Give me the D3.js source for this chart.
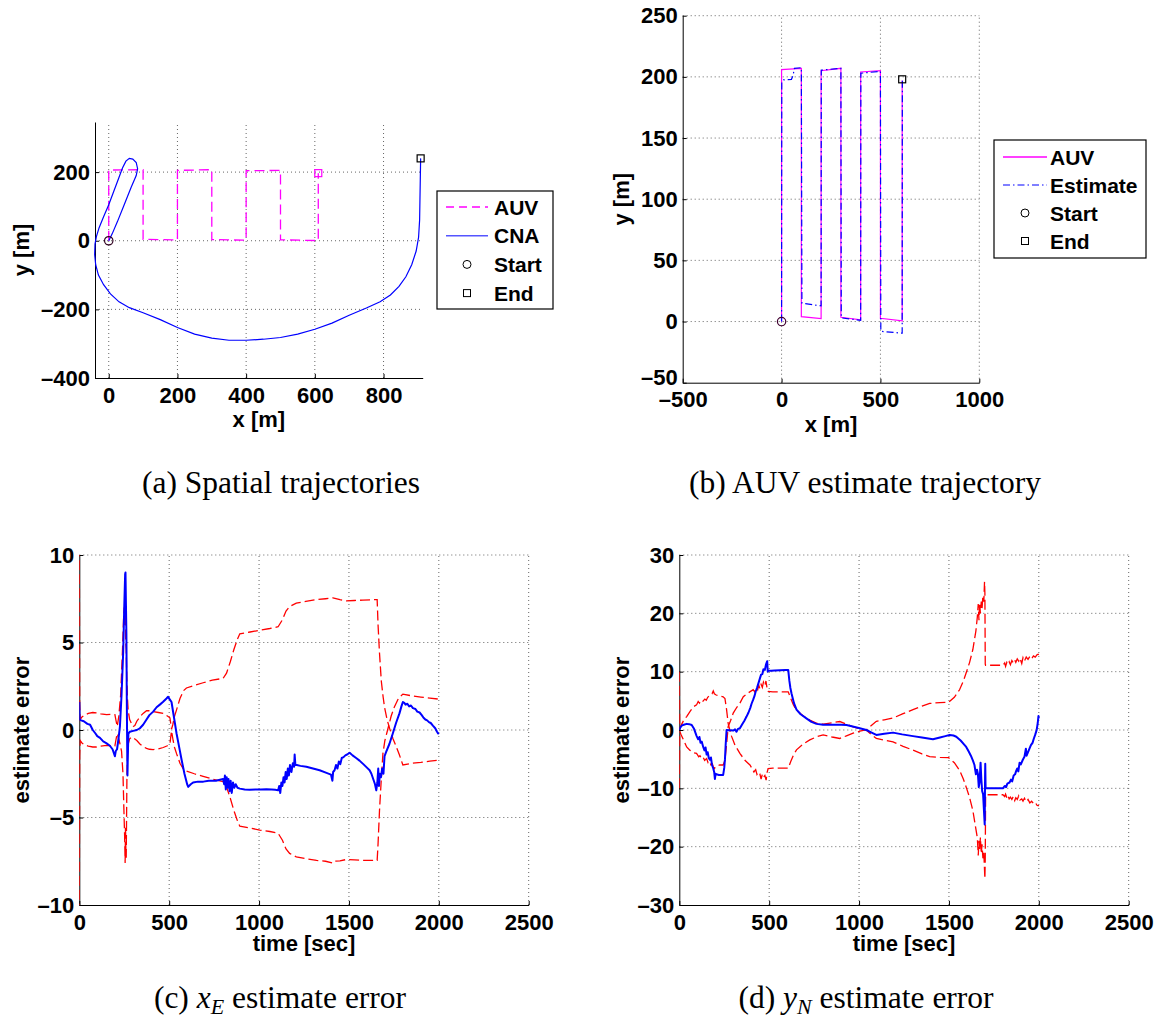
<!DOCTYPE html>
<html><head><meta charset="utf-8">
<script src="https://cdn.jsdelivr.net/npm/d3@7"></script>
<style>
html,body{margin:0;padding:0;background:#fff;}
svg{display:block;}
.tick text,.lbl,.leg{font-family:"Liberation Sans",Arial,Helvetica,sans-serif;font-weight:bold;fill:#000;}
.tick text,.lbl{font-size:22px;}
.leg{font-size:21px;}
.cap{font-family:"Liberation Serif","Times New Roman",serif;font-size:31.5px;fill:#000;}
</style></head><body>
<svg id="fig" width="1163" height="1023"></svg>
<script>
// ---------------- DATA ----------------
// AUV lawnmower path (x [m], y [m])
const auvPath = [[0,0],[0,206],[100,207],[100,4],[200,2.5],[200,205],[300,207],[300,3.5],[400,1.4],[400,204],[500,205],[500,2.7],[610,0.5],[610,197]];
// CNA path (panel a)
const cnaPath = [[0,0],[10,20],[25,55],[45,105],[65,155],[80,190],[84,210],[80,228],[70,238],[60,240],[50,232],[40,212],[30,185],[15,145],[0,105],[-15,70],[-28,38],[-36,12],[-40,-10],[-41,-40],[-38,-70],[-30,-100],[-15,-128],[5,-155],[30,-178],[60,-195],[100,-210],[150,-230],[200,-253],[250,-272],[300,-284],[350,-290],[400,-290],[450,-287],[500,-282],[550,-272],[600,-258],[650,-240],[700,-217],[750,-196],[790,-178],[820,-158],[845,-133],[865,-105],[882,-70],[895,-30],[902,10],[905,60],[906,120],[907,180],[908,240]];
// AUV estimate path (panel b)
const estPath = [[0,0],[1,196],[10,197.5],[50,198],[58,201],[65,207],[100,207.5],[103,15],[200,12.8],[201,205.5],[300,207],[302,3],[400,1],[401,203],[500,204.5],[502,-8],[610,-9.5],[611,198]];
const startPt = [0,0];
const endAuvA = [610,197];
const endCnaA = [908,240];
const endB = [610,198];

// x_E estimate error (panel c): blue error, red bounds
const xeErr = [[0,1.6],[2,0.6],[10,0.55],[25,0.5],[45,0.35],[60,0.3],[75,0.0],[90,-0.2],[100,-0.35],[115,-0.45],[133,-0.65],[150,-0.75],[170,-0.9],[185,-1.1],[198,-1.5],[203,-1.2],[210,-1.1],[218,-0.5],[226,0.2],[235,2.0],[244,4.4],[250,7.0],[255,8.9],[257,9.0],[259,7.5],[262,5.5],[264,2.0],[266,-0.5],[268,-2.6],[270,-1.5],[273,-0.2],[281,-0.1],[300,-0.05],[320,0.0],[337,0.1],[355,0.3],[374,0.6],[390,0.85],[411,1.05],[430,1.3],[448,1.45],[465,1.6],[485,1.8],[494,1.9],[503,1.75],[513,1.6],[527,0.7],[541,-0.2],[555,-0.95],[569,-1.7],[585,-2.5],[600,-3.1],[606,-3.25],[620,-3.1],[633,-3.0],[660,-2.95],[690,-2.95],[720,-2.9],[760,-2.9],[800,-2.8],[806,-3.1],[810,-2.6],[815,-3.4],[820,-2.7],[825,-3.3],[830,-2.8],[836,-3.5],[842,-2.9],[848,-3.6],[855,-3.0],[862,-3.3],[870,-3.1],[880,-3.3],[893,-3.35],[920,-3.4],[948,-3.42],[980,-3.4],[1010,-3.4],[1041,-3.38],[1070,-3.4],[1090,-3.42],[1106,-3.45],[1112,-3.2],[1118,-3.6],[1124,-3.0],[1130,-3.2],[1136,-2.7],[1142,-3.0],[1148,-2.4],[1154,-2.8],[1160,-2.2],[1166,-2.6],[1172,-2.0],[1180,-2.4],[1188,-1.9],[1195,-2.1],[1198,-1.4],[1202,-2.0],[1210,-2.0],[1230,-2.05],[1263,-2.1],[1300,-2.2],[1337,-2.3],[1375,-2.45],[1400,-2.55],[1408,-2.9],[1412,-2.4],[1420,-2.3],[1428,-2.0],[1436,-2.2],[1444,-1.8],[1452,-1.95],[1460,-1.6],[1470,-1.55],[1480,-1.45],[1490,-1.4],[1504,-1.3],[1520,-1.45],[1540,-1.6],[1559,-1.75],[1580,-1.95],[1600,-2.15],[1615,-2.3],[1625,-2.5],[1635,-2.8],[1645,-3.1],[1652,-3.45],[1658,-3.0],[1663,-2.2],[1667,-3.2],[1672,-2.5],[1678,-2.7],[1685,-2.2],[1692,-2.5],[1698,-1.5],[1707,-1.25],[1725,-0.8],[1744,-0.2],[1762,0.4],[1781,0.95],[1792,1.35],[1800,1.6],[1808,1.55],[1815,1.45],[1825,1.5],[1835,1.35],[1845,1.4],[1856,1.25],[1870,1.2],[1880,1.05],[1893,1.0],[1905,0.85],[1915,0.7],[1925,0.6],[1935,0.55],[1945,0.45],[1955,0.4],[1967,0.25],[1980,0.1],[1990,-0.1],[1996,-0.2],[2000,-0.15]];
const xeBoundA = [[0,10.5],[2,1.5],[5,0.6],[15,0.75],[30,0.85],[50,0.95],[75,1.0],[96,0.98],[120,0.92],[152,0.88],[175,0.9],[198,0.88],[205,0.5],[211,0.2],[220,0.8],[230,2.0],[240,4.5],[246,6.3],[250,7.0],[253,6.0],[256,6.8],[258,5.0],[261,4.6],[264,3.0],[268,1.8],[272,1.1],[280,0.6],[291,0.35],[300,0.2],[309,0.25],[320,0.5],[337,0.75],[355,0.95],[374,1.1],[390,1.1],[411,1.05],[440,1.0],[467,0.95],[490,0.8],[504,0.7],[513,0.05],[520,0.3],[530,0.8],[541,1.15],[560,1.8],[580,2.25],[596,2.4],[640,2.55],[689,2.7],[740,2.85],[800,2.95],[819,3.25],[840,3.9],[860,4.6],[880,5.2],[893,5.5],[950,5.6],[1004,5.7],[1060,5.8],[1106,5.9],[1130,6.3],[1150,6.8],[1170,7.05],[1207,7.25],[1260,7.35],[1320,7.45],[1370,7.5],[1411,7.55],[1450,7.45],[1485,7.38],[1530,7.4],[1578,7.42],[1620,7.44],[1657,7.45],[1662,6.0],[1670,4.4],[1680,2.8],[1690,1.9],[1698,1.3],[1712,0.6],[1726,0.1],[1745,-0.5],[1763,-0.95],[1780,-1.4],[1800,-2.0],[1850,-1.9],[1900,-1.85],[1950,-1.78],[1996,-1.72],[2000,-1.7]];
const xeBoundB = [[0,-10.5],[2,-1.5],[5,-0.6],[15,-0.75],[30,-0.85],[50,-0.92],[75,-0.97],[96,-0.97],[120,-0.92],[152,-0.88],[175,-0.9],[198,-0.9],[205,-0.5],[211,-0.2],[222,-0.6],[235,-1.2],[243,-2.5],[248,-4.5],[252,-6.0],[255,-7.6],[257,-5.5],[259,-6.8],[261,-7.3],[263,-5.0],[265,-2.6],[268,-1.5],[272,-0.8],[280,-0.5],[291,-0.4],[300,-0.45],[320,-0.6],[337,-0.8],[355,-0.95],[374,-1.05],[390,-1.1],[411,-1.12],[440,-1.08],[467,-1.0],[490,-0.9],[504,-0.8],[513,-0.05],[522,-0.6],[530,-1.0],[541,-1.35],[560,-1.9],[580,-2.25],[596,-2.35],[640,-2.5],[689,-2.65],[740,-2.8],[800,-2.95],[819,-3.25],[840,-3.9],[860,-4.6],[880,-5.2],[893,-5.5],[950,-5.6],[1004,-5.72],[1060,-5.8],[1106,-5.9],[1130,-6.3],[1150,-6.8],[1170,-7.05],[1207,-7.25],[1260,-7.35],[1320,-7.45],[1370,-7.5],[1411,-7.6],[1420,-7.5],[1450,-7.48],[1485,-7.4],[1530,-7.42],[1578,-7.45],[1620,-7.45],[1657,-7.45],[1662,-6.5],[1670,-4.6],[1680,-2.8],[1689,-1.35],[1700,-0.6],[1715,0.0],[1735,0.8],[1752,1.3],[1775,1.8],[1800,2.05],[1850,1.95],[1900,1.88],[1950,1.82],[1996,1.77],[2000,1.76]];

// y_N estimate error (panel d)
const ynErr = [[0,0],[5,0.4],[15,0.8],[25,0.9],[41,1.05],[55,1.0],[69,0.85],[82,0.2],[96,-1.0],[105,-1.6],[112,-1.2],[118,-2.2],[125,-2.0],[133,-2.9],[140,-3.5],[146,-3.0],[152,-4.2],[158,-3.8],[164,-4.8],[170,-5.1],[176,-4.7],[182,-6.0],[189,-6.6],[194,-7.2],[198,-8.4],[202,-7.5],[207,-7.6],[220,-7.7],[235,-7.7],[244,-7.7],[250,-6.5],[254,-5.0],[258,-2.5],[263,0.0],[280,-0.05],[300,-0.1],[310,0.1],[318,-0.3],[327,0.2],[337,0.3],[350,1.0],[362,1.6],[374,2.3],[385,3.0],[395,3.8],[402,4.5],[411,5.2],[418,5.8],[425,6.6],[432,7.2],[440,8.0],[448,8.8],[455,9.5],[462,9.6],[468,10.4],[476,10.3],[482,11.2],[489,11.8],[492,10.0],[494,10.2],[510,10.15],[530,10.2],[560,10.25],[590,10.3],[606,10.3],[612,8.5],[618,7.2],[624,6.3],[638,4.6],[652,3.5],[675,2.7],[707,2.0],[735,1.4],[763,1.05],[800,0.9],[856,0.88],[900,0.9],[930,0.85],[965,0.6],[1004,0.3],[1041,0.0],[1070,-0.45],[1096,-0.85],[1140,-0.65],[1189,-0.45],[1240,-0.75],[1300,-1.05],[1350,-1.3],[1411,-1.6],[1450,-1.3],[1480,-1.05],[1504,-0.85],[1525,-0.95],[1541,-1.15],[1565,-1.8],[1585,-2.5],[1596,-2.9],[1610,-3.7],[1622,-4.4],[1633,-5.2],[1642,-6.0],[1650,-7.6],[1656,-6.8],[1661,-7.5],[1666,-9.8],[1670,-9.0],[1676,-5.6],[1680,-8.4],[1685,-10.5],[1690,-11.0],[1696,-14.5],[1699,-16.2],[1701,-8.0],[1702,-5.8],[1704,-10.0],[1730,-10.0],[1760,-10.0],[1790,-10.0],[1800,-10.0],[1810,-9.6],[1818,-9.8],[1825,-9.2],[1837,-9.0],[1845,-8.5],[1852,-8.8],[1860,-7.8],[1868,-7.6],[1874,-7.0],[1880,-6.6],[1886,-7.1],[1893,-5.6],[1900,-5.9],[1911,-5.1],[1920,-4.6],[1928,-3.2],[1932,-4.4],[1940,-3.8],[1948,-3.2],[1956,-2.6],[1965,-2.2],[1972,-1.5],[1980,-0.8],[1988,0.0],[1994,1.2],[1998,2.4],[2000,2.0]];
const ynBoundA = [[0,10.0],[2,0.2],[10,0.8],[25,1.7],[41,2.3],[60,3.2],[80,4.0],[96,4.3],[105,4.9],[112,4.6],[120,5.0],[128,4.8],[133,5.0],[142,5.3],[150,5.1],[158,5.6],[166,5.8],[174,6.1],[182,6.2],[189,6.7],[195,6.2],[205,6.0],[225,5.8],[244,5.7],[254,5.4],[263,3.5],[272,1.1],[281,0.0],[291,-1.1],[310,-2.6],[337,-4.0],[365,-5.2],[393,-6.0],[405,-6.6],[415,-7.2],[425,-6.8],[432,-7.6],[440,-7.2],[448,-7.5],[455,-8.4],[462,-7.6],[468,-8.1],[476,-7.8],[483,-8.6],[489,-7.2],[494,-6.6],[520,-6.55],[560,-6.55],[606,-6.55],[620,-5.4],[635,-4.3],[652,-3.4],[690,-2.4],[726,-1.7],[765,-1.15],[800,-0.85],[850,-1.2],[893,-1.45],[930,-1.0],[967,-0.55],[1005,-0.2],[1041,0.05],[1070,0.8],[1096,1.5],[1140,1.75],[1189,2.05],[1245,2.8],[1300,3.5],[1350,4.1],[1393,4.55],[1450,4.7],[1498,4.75],[1530,5.6],[1559,6.9],[1580,8.4],[1596,9.8],[1615,11.6],[1633,13.8],[1650,17.0],[1658,19.4],[1663,21.6],[1667,18.8],[1671,21.8],[1675,20.0],[1680,22.0],[1684,20.8],[1689,23.0],[1694,22.0],[1698,25.4],[1700,23.5],[1702,11.3],[1704,11.1],[1740,11.1],[1770,11.1],[1800,11.1],[1810,11.5],[1815,10.9],[1822,11.6],[1828,11.3],[1835,11.7],[1842,11.2],[1850,11.9],[1858,11.5],[1866,12.0],[1872,11.6],[1880,12.2],[1888,11.8],[1895,12.3],[1905,11.4],[1912,12.4],[1920,11.8],[1930,12.5],[1940,12.1],[1950,12.6],[1960,12.2],[1970,12.7],[1980,12.5],[1990,12.9],[1996,13.0],[2000,12.9]];
const ynBoundB = [[0,-10.0],[2,-0.2],[10,-0.8],[25,-1.8],[41,-2.9],[60,-3.5],[80,-3.9],[96,-4.0],[108,-4.6],[115,-4.4],[124,-4.9],[133,-4.7],[141,-5.2],[152,-4.9],[160,-5.6],[168,-5.4],[176,-6.0],[184,-5.8],[189,-6.3],[195,-6.6],[205,-6.2],[225,-6.0],[244,-6.0],[254,-5.2],[263,-2.5],[272,0.6],[285,1.6],[300,2.9],[320,3.9],[337,4.6],[356,5.7],[380,6.3],[411,6.9],[420,6.5],[428,7.3],[436,6.9],[442,7.7],[448,7.1],[455,7.8],[462,7.3],[468,8.2],[476,7.6],[482,8.4],[489,7.0],[494,6.6],[520,6.55],[560,6.55],[606,6.55],[620,5.4],[635,4.3],[652,3.4],[690,2.4],[726,1.7],[765,1.15],[800,1.0],[850,1.25],[893,1.45],[930,1.0],[967,0.55],[1005,0.2],[1041,-0.05],[1070,-0.8],[1096,-1.45],[1140,-1.75],[1189,-2.05],[1245,-2.8],[1300,-3.45],[1350,-4.1],[1393,-4.55],[1450,-4.7],[1498,-4.75],[1530,-5.6],[1559,-6.9],[1580,-8.4],[1596,-9.8],[1615,-11.6],[1633,-13.8],[1650,-17.0],[1658,-18.5],[1663,-21.5],[1667,-19.0],[1671,-20.6],[1675,-18.4],[1680,-21.2],[1684,-19.6],[1689,-22.0],[1694,-21.0],[1698,-24.0],[1700,-25.5],[1702,-22.0],[1704,-11.1],[1740,-11.1],[1770,-11.1],[1800,-11.1],[1810,-11.4],[1815,-11.0],[1822,-11.6],[1828,-11.2],[1835,-11.8],[1842,-11.5],[1850,-11.9],[1858,-11.4],[1866,-12.1],[1872,-11.6],[1880,-11.9],[1888,-11.3],[1895,-12.0],[1905,-11.8],[1912,-12.2],[1920,-11.7],[1930,-12.3],[1940,-11.9],[1950,-12.5],[1960,-12.2],[1970,-12.6],[1980,-12.4],[1990,-12.9],[1996,-13.0],[2000,-12.9]];

// tick labels
const aXTicks = [0,200,400,600,800];
const aYTicks = [-400,-200,0,200];
const bXTicks = [-500,0,500,1000];
const bYTicks = [-50,0,50,100,150,200,250];
const tTicks = [0,500,1000,1500,2000,2500];
const cYTicks = [-10,-5,0,5,10];
const dYTicks = [-30,-20,-10,0,10,20,30];
const legendA = ["AUV","CNA","Start","End"];
const legendB = ["AUV","Estimate","Start","End"];

// ---------------- DRAWING ----------------
const svg = d3.select("#fig");
let clipId = 0;
function panel(cfg){
  const g = svg.append("g");
  const x = d3.scaleLinear().domain(cfg.xDom).range([cfg.left, cfg.right]);
  const y = d3.scaleLinear().domain(cfg.yDom).range([cfg.bottom, cfg.top]);
  const grid = g.append("g").attr("stroke","#555").attr("stroke-width",0.9).attr("stroke-dasharray","1,3");
  cfg.xGrid.forEach(v => grid.append("line").attr("x1",x(v)).attr("x2",x(v)).attr("y1",cfg.bottom).attr("y2",cfg.top));
  cfg.yGrid.forEach(v => grid.append("line").attr("y1",y(v)).attr("y2",y(v)).attr("x1",cfg.left).attr("x2",cfg.right));
  const fmt = d => d < 0 ? "\u2013" + Math.abs(d) : String(d);
  const xa = g.append("g").attr("transform",`translate(0,${cfg.bottom})`)
    .call(d3.axisBottom(x).tickValues(cfg.xTicks).tickFormat(fmt).tickSizeInner(-4).tickSizeOuter(0).tickPadding(9));
  const ya = g.append("g").attr("transform",`translate(${cfg.left},0)`)
    .call(d3.axisLeft(y).tickValues(cfg.yTicks).tickFormat(fmt).tickSizeInner(-4).tickSizeOuter(0).tickPadding(5));
  [xa,ya].forEach(a => {
    a.attr("font-size",null).attr("font-family",null);
    a.select(".domain").attr("stroke","#000").attr("stroke-width",1);
    a.selectAll(".tick line").attr("stroke","#000");
  });
  if (cfg.lowYShift) ya.selectAll(".tick text").filter(d => d === cfg.yDom[0]).attr("dy","0.1em");
  g.append("text").attr("class","lbl").attr("x",(cfg.left+cfg.right)/2).attr("y",cfg.bottom+cfg.xLabOff)
    .attr("text-anchor","middle").text(cfg.xLabel);
  g.append("text").attr("class","lbl").attr("transform",`translate(${cfg.yLabX},${(cfg.top+cfg.bottom)/2}) rotate(-90)`)
    .attr("text-anchor","middle").text(cfg.yLabel);
  const id = "clip" + (clipId++);
  g.append("clipPath").attr("id",id).append("rect")
    .attr("x",cfg.left).attr("y",cfg.top).attr("width",cfg.right-cfg.left).attr("height",cfg.bottom-cfg.top);
  const plot = g.append("g").attr("clip-path",`url(#${id})`);
  const marks = g.append("g");
  const line = d3.line().x(d => x(d[0])).y(d => y(d[1]));
  return {g, plot, marks, x, y, line};
}

function legend(L, entries, styles){
  const g = svg.append("g");
  g.append("rect").attr("x",L.x).attr("y",L.y).attr("width",L.w).attr("height",L.h)
    .attr("fill","#fff").attr("stroke","#000").attr("stroke-width",1.2);
  entries.forEach((name,i) => {
    const cy = L.y + L.first + i*L.step;
    const s = styles[i];
    if (s.type === "line") {
      g.append("line").attr("x1",L.lx1).attr("x2",L.lx2).attr("y1",cy).attr("y2",cy)
        .attr("stroke",s.color).attr("stroke-width",s.width).attr("stroke-dasharray",s.dash || null);
    } else if (s.type === "circle") {
      g.append("circle").attr("cx",(L.lx1+L.lx2)/2).attr("cy",cy).attr("r",4).attr("fill","none").attr("stroke","#000").attr("stroke-width",1);
    } else {
      g.append("rect").attr("x",(L.lx1+L.lx2)/2-3.5).attr("y",cy-3.5).attr("width",7).attr("height",7).attr("fill","none").attr("stroke","#000").attr("stroke-width",1);
    }
    g.append("text").attr("class","leg").attr("x",L.tx).attr("y",cy+7.5).text(name);
  });
}

function marker(p, pt, kind, color){
  if (kind === "circle") p.marks.append("circle").attr("cx",p.x(pt[0])).attr("cy",p.y(pt[1])).attr("r",4.2).attr("fill","none").attr("stroke",color).attr("stroke-width",1.2);
  else p.marks.append("rect").attr("x",p.x(pt[0])-3.5).attr("y",p.y(pt[1])-3.5).attr("width",7).attr("height",7).attr("fill","none").attr("stroke",color).attr("stroke-width",1.2);
}

// Panel (a)
const pa = panel({left:95,right:422.7,top:122,bottom:378,xDom:[-40,914],yDom:[-400,346],
  xTicks:aXTicks,yTicks:aYTicks,xGrid:[0,200,400,600,800],yGrid:[-200,0,200],
  xLabel:"x [m]",yLabel:"y [m]",xLabOff:49,yLabX:29});
pa.plot.append("path").attr("d",pa.line(auvPath)).attr("fill","none").attr("stroke","#ff00ff").attr("stroke-width",1.3).attr("stroke-dasharray","10,5");
pa.marks.append("path").attr("d",pa.line(cnaPath)).attr("fill","none").attr("stroke","#0000ff").attr("stroke-width",1.2);
marker(pa, startPt, "circle", "#300020");
marker(pa, endAuvA, "square", "#ff00ff");
marker(pa, endCnaA, "square", "#000");
legend({x:437,y:191,w:116,h:118,first:16,step:28.7,lx1:446,lx2:488,tx:494}, legendA,
  [{type:"line",color:"#ff00ff",width:1.3,dash:"8,5"},{type:"line",color:"#5555ff",width:1.5},{type:"circle"},{type:"square"}]);

// Panel (b)
const pb = panel({left:682.7,right:979.3,top:15.7,bottom:382.7,xDom:[-500,1000],yDom:[-50,250],
  xTicks:bXTicks,yTicks:bYTicks,xGrid:[0,500,1000],yGrid:[0,50,100,150,200,250],
  xLabel:"x [m]",yLabel:"y [m]",xLabOff:49,yLabX:629,lowYShift:true});
pb.plot.append("path").attr("d",pb.line(auvPath)).attr("fill","none").attr("stroke","#ff00ff").attr("stroke-width",1.2);
pb.plot.append("path").attr("d",pb.line(estPath)).attr("fill","none").attr("stroke","#0000ff").attr("stroke-width",1.2).attr("stroke-dasharray","7,3,1.5,3");
marker(pb, startPt, "circle", "#400030");
marker(pb, endB, "square", "#000");
legend({x:994,y:140,w:152,h:118,first:17,step:28,lx1:1003,lx2:1047,tx:1050}, legendB,
  [{type:"line",color:"#ff00ff",width:1.3},{type:"line",color:"#0000ff",width:1.2,dash:"7,3,1.5,3"},{type:"circle"},{type:"square"}]);

// Panel (c)
const pc = panel({left:79.3,right:528.7,top:555,bottom:905,xDom:[0,2500],yDom:[-10,10],
  xTicks:tTicks,yTicks:cYTicks,xGrid:[500,1000,1500,2000,2500],yGrid:[-5,0,5,10],
  xLabel:"time [sec]",yLabel:"estimate error",xLabOff:46,yLabX:29});
[xeBoundA, xeBoundB].forEach(b => pc.plot.append("path").attr("d",pc.line(b)).attr("fill","none").attr("stroke","#ff0000").attr("stroke-width",1.3).attr("stroke-dasharray","10,4"));
pc.plot.append("path").attr("d",pc.line(xeErr)).attr("fill","none").attr("stroke","#0000ff").attr("stroke-width",2).attr("stroke-linejoin","round");

// Panel (d)
const pd = panel({left:679.3,right:1128.7,top:555,bottom:905,xDom:[0,2500],yDom:[-30,30],
  xTicks:tTicks,yTicks:dYTicks,xGrid:[500,1000,1500,2000,2500],yGrid:[-20,-10,0,10,20,30],
  xLabel:"time [sec]",yLabel:"estimate error",xLabOff:46,yLabX:629});
[ynBoundA, ynBoundB].forEach(b => pd.plot.append("path").attr("d",pd.line(b)).attr("fill","none").attr("stroke","#ff0000").attr("stroke-width",1.3).attr("stroke-dasharray","10,4"));
pd.plot.append("path").attr("d",pd.line(ynErr)).attr("fill","none").attr("stroke","#0000ff").attr("stroke-width",2).attr("stroke-linejoin","round");

// Captions
function caption(cx, y, parts){
  const t = svg.append("text").attr("class","cap").attr("x",cx).attr("y",y).attr("text-anchor","middle");
  parts.forEach(p => {
    const s = t.append("tspan").text(p.t);
    if (p.it) s.attr("font-style","italic");
    if (p.dy) s.attr("dy",p.dy);
    if (p.fs) s.attr("font-size",p.fs);
  });
}
caption(281, 493, [{t:"(a) Spatial trajectories"}]);
caption(865, 493, [{t:"(b) AUV estimate trajectory"}]);
caption(280, 1008, [{t:"(c) "},{t:"x",it:true},{t:"E",it:true,dy:6,fs:22},{t:" estimate error",dy:-6}]);
caption(866, 1008, [{t:"(d) "},{t:"y",it:true},{t:"N",it:true,dy:6,fs:22},{t:" estimate error",dy:-6}]);
</script>
</body></html>
